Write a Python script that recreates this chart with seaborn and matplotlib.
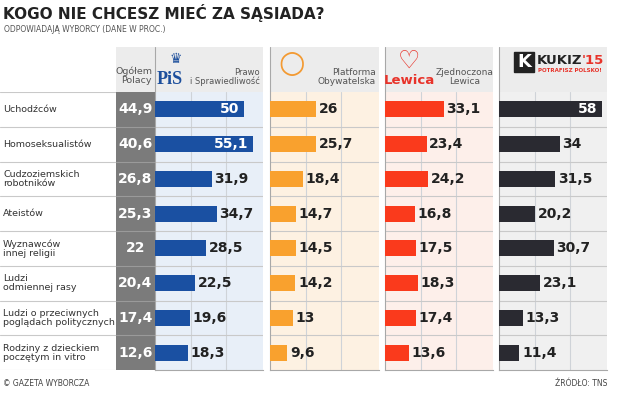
import pandas as pd
import numpy as np
import seaborn as sns
import matplotlib.pyplot as plt
from matplotlib.patches import Rectangle

# data (percent)
kategorie = ["Uchodźców", "Homoseksualistów", "Cudzoziemskich\nrobotników", "Ateistów",
             "Wyznawców\ninnej religii", "Ludzi\nodmiennej rasy",
             "Ludzi o przeciwnych\npoglądach politycznych", "Rodziny z dzieckiem\npoczętym in vitro"]
ogolem = [44.9, 40.6, 26.8, 25.3, 22, 20.4, 17.4, 12.6]
pis = [50, 55.1, 31.9, 34.7, 28.5, 22.5, 19.6, 18.3]
po = [26, 25.7, 18.4, 14.7, 14.5, 14.2, 13, 9.6]
zl = [33.1, 23.4, 24.2, 16.8, 17.5, 18.3, 17.4, 13.6]
kukiz = [58, 34, 31.5, 20.2, 30.7, 23.1, 13.3, 11.4]

df = pd.DataFrame({"kat": kategorie, "ogolem": ogolem, "pis": pis, "po": po, "zl": zl, "kukiz": kukiz})

sns.set_style("white")
plt.rcParams['font.family'] = ['Liberation Sans Narrow', 'DejaVu Sans Condensed', 'DejaVu Sans']

W, H = 620, 398
fig = plt.figure(figsize=(6.2, 3.98), dpi=100)


def ax_px(x0, y0, x1, y1, **kw):
    return fig.add_axes([x0 / W, 1 - y1 / H, (x1 - x0) / W, (y1 - y0) / H], **kw)


def fmt(v):
    return f"{v:g}".replace(".", ",")


TOP, BOT = 92, 370
LINE = "#c9c9c9"
NUM_FONT = dict(fontsize=10, fontweight="bold")

# title
fig.text(3 / W, 1 - 13 / H, "KOGO NIE CHCESZ MIEĆ ZA SĄSIADA?", fontsize=11, fontweight="heavy",
         color="#222222", va="center", ha="left")
fig.text(4 / W, 1 - 30 / H, "ODPOWIADAJĄ WYBORCY (DANE W PROC.)", fontsize=5.5, color="#555555",
         va="center", ha="left")

# category labels
ax_lab = ax_px(0, TOP, 116, BOT)
ax_lab.set_xlim(0, 116)
ax_lab.set_ylim(7.5, -0.5)
for i, k in enumerate(kategorie):
    ax_lab.text(3, i, k, fontsize=6.8, color="#333333", va="center", ha="left", linespacing=1.0)
for y in np.arange(-0.5, 8, 1):
    ax_lab.axhline(y, color=LINE, lw=0.8)
ax_lab.axis("off")

# "Ogółem Polacy" column
ax_og = ax_px(116, TOP, 155, BOT)
ax_og.set_facecolor("#7b7b7b")
ax_og.set_xlim(0, 1)
ax_og.set_ylim(7.5, -0.5)
for i, v in enumerate(ogolem):
    ax_og.text(0.5, i, fmt(v), color="white", va="center", ha="center", **NUM_FONT)
for y in np.arange(0.5, 7.5, 1):
    ax_og.axhline(y, color="#9a9a9a", lw=0.8)
ax_og.set_xticks([])
ax_og.set_yticks([])
for s in ax_og.spines.values():
    s.set_visible(False)

# header boxes
hdr = ax_px(0, 47, W, TOP)
hdr.set_xlim(0, W)
hdr.set_ylim(TOP, 47)
hdr.axis("off")
for x0, x1 in [(116, 263), (270, 379), (385, 493), (499, 607)]:
    hdr.add_patch(Rectangle((x0, 47), x1 - x0, TOP - 47, color="#ececec", lw=0))
for x in [155, 270, 385, 499]:
    hdr.plot([x, x], [47, TOP], color="#a8a8a8", lw=0.8)
hdr.text(152, 76, "Ogółem\nPolacy", fontsize=6.8, color="#555555", ha="right", va="center", linespacing=0.95)
hdr.text(157, 79, "PiS", fontsize=13, color="#1d4f9c", fontweight="bold", ha="left", va="center",
         family=["Liberation Serif", "DejaVu Serif"])
hdr.text(176, 59, "\u265b", fontsize=10, color="#1d4f9c", ha="center", va="center",
         family=["DejaVu Sans"])
hdr.text(260, 77, "Prawo\ni Sprawiedliwość", fontsize=6, color="#555555", ha="right", va="center",
         linespacing=0.95, multialignment="right")
hdr.text(292, 64, "\u25cb", fontsize=22, color="#f39a32", ha="center", va="center", fontweight="bold")
hdr.text(376, 77, "Platforma\nObywatelska", fontsize=6.5, color="#555555", ha="right", va="center",
         linespacing=0.95, multialignment="right")
hdr.text(409, 61, "\u2661", fontsize=18, color="#e8332a", ha="center", va="center",
         family=["DejaVu Sans"])
hdr.text(409, 81, "Lewica", fontsize=9.5, color="#e8332a", fontweight="bold", ha="center", va="center")
hdr.text(465, 77, "Zjednoczona\nLewica", fontsize=6.5, color="#555555", ha="center", va="center",
         linespacing=0.95)
hdr.add_patch(Rectangle((514, 52), 20, 20, facecolor="#222222", edgecolor="#222222"))
hdr.text(524, 62, "K", fontsize=13, color="white", fontweight="bold", ha="center", va="center")
hdr.text(537, 60, "KUKIZ", fontsize=9.5, color="#222222", fontweight="heavy", ha="left", va="center")
hdr.text(582, 60, "'15", fontsize=9.5, color="#e8332a", fontweight="heavy", ha="left", va="center")
hdr.text(538, 70, "POTRAFISZ POLSKO!", fontsize=4, color="#e8332a", fontweight="bold", ha="left", va="center")

# party panels
panels = [
    ("pis", 155, 263, "#1a50a2", "#e8eff8"),
    ("po", 270, 379, "#f9a12e", "#fdf1e2"),
    ("zl", 385, 493, "#fa3a1c", "#fdefea"),
    ("kukiz", 499, 607, "#2a2a31", "#f0f0f0"),
]
for col, x0, x1, kolor, tlo in panels:
    ax = ax_px(x0, TOP, x1, BOT)
    ax.set_facecolor(tlo)
    sns.barplot(data=df, x=col, y="kat", ax=ax, color=kolor, width=0.46, orient="h",
                saturation=1, linewidth=0, zorder=3)
    xmax = (x1 - x0) / 1.78
    ax.set_xlim(0, xmax)
    ax.set_ylim(7.5, -0.5)
    for g in [20, 40]:
        ax.axvline(g, color="#cfd3d8", lw=0.8, zorder=1)
    for y in np.arange(0.5, 7.5, 1):
        ax.axhline(y, color=LINE, lw=0.8, zorder=1)
    for i, v in enumerate(df[col]):
        if v >= 45:
            ax.text(v - 2.5, i, fmt(v), color="white", ha="right", va="center", zorder=4, **NUM_FONT)
        else:
            ax.text(v + 1.5, i, fmt(v), color="#222222", ha="left", va="center", zorder=4, **NUM_FONT)
    ax.set_xlabel("")
    ax.set_ylabel("")
    ax.set_xticks([])
    ax.set_yticks([])
    for s in ["top", "right"]:
        ax.spines[s].set_visible(False)
    ax.spines["left"].set_color("#a8a8a8")
    ax.spines["left"].set_linewidth(0.8)
    ax.spines["bottom"].set_color("#a8a8a8")
    ax.spines["bottom"].set_linewidth(0.8)

# footer
fig.text(3 / W, 1 - 383 / H, "© GAZETA WYBORCZA", fontsize=5.5, color="#444444", va="center", ha="left")
fig.text(607 / W, 1 - 383 / H, "ŹRÓDŁO: TNS", fontsize=5.5, color="#444444", va="center", ha="right")

fig.savefig("out.png", dpi=100)
